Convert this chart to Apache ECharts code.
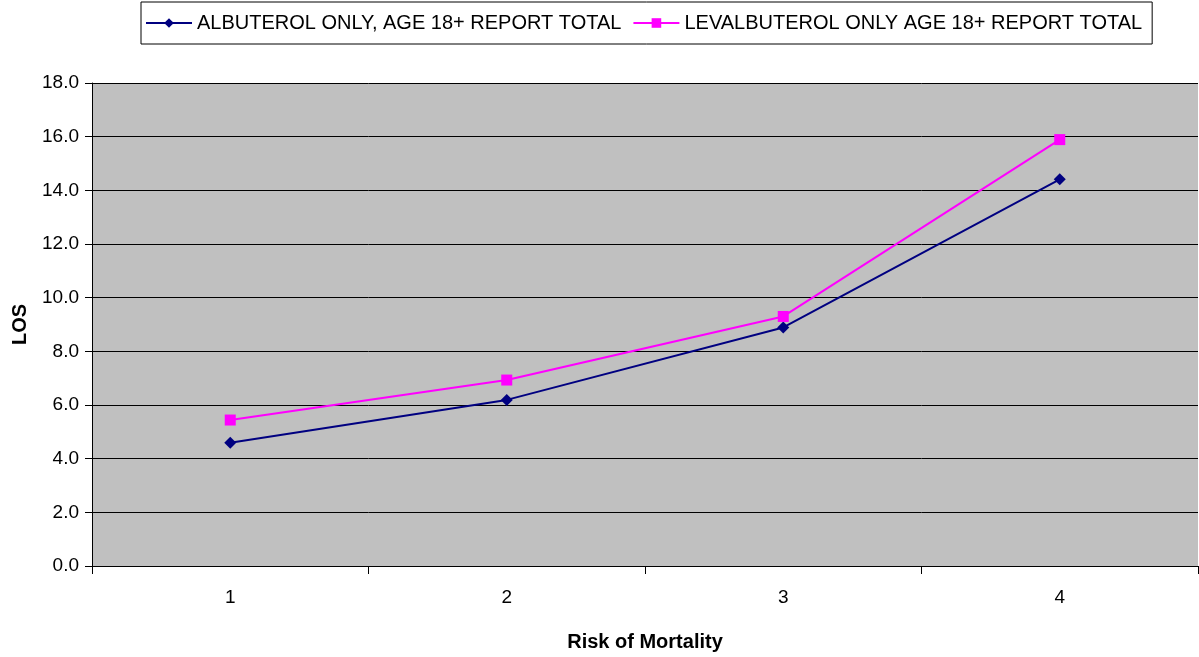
<!DOCTYPE html>
<html><head><meta charset="utf-8">
<script src="https://cdn.jsdelivr.net/npm/echarts@6/dist/echarts.min.js"></script>
<style>html,body{margin:0;padding:0;background:#fff}#c{width:1199px;height:657px}</style>
</head><body><div id="c"></div>
<script>
const categories = ['1','2','3','4'];
const albuterol = [4.59, 6.19, 8.89, 14.41];
const levalbuterol = [5.44, 6.93, 9.30, 15.89];
const seriesNames = ['ALBUTEROL ONLY, AGE 18+ REPORT TOTAL', 'LEVALBUTEROL ONLY AGE 18+ REPORT TOTAL'];

const chart = echarts.init(document.getElementById('c'), null, {renderer:'canvas'});
const font = 'Liberation Sans, Arial, sans-serif';
chart.setOption({
  animation:false,
  backgroundColor:'#fff',
  legend:{
    top:2, left:141,
    padding:[11,10,11,4],
    borderColor:'#000', borderWidth:1,
    itemGap:11, itemWidth:46, itemHeight:12,
    textStyle:{fontFamily:font, fontSize:20, color:'#000'},
    data:[seriesNames[0], seriesNames[1]]
  },
  grid:{left:92, right:1, top:83, bottom:89, show:true, backgroundColor:'#c0c0c0', borderWidth:0},
  xAxis:{
    type:'category', data:categories, boundaryGap:true,
    name:'Risk of Mortality', nameLocation:'middle', nameGap:66,
    nameTextStyle:{fontFamily:font, fontSize:20, fontWeight:'bold', color:'#000'},
    axisLine:{lineStyle:{color:'#000', width:1}},
    axisTick:{show:true, length:8, lineStyle:{color:'#000'}},
    axisLabel:{fontFamily:font, fontSize:19, color:'#000', margin:22}
  },
  yAxis:{
    type:'value', min:0, max:18, interval:2,
    name:'LOS', nameLocation:'middle', nameGap:62,
    nameTextStyle:{fontFamily:font, fontSize:20, fontWeight:'bold', color:'#000'},
    axisLine:{show:true, lineStyle:{color:'#000', width:1}},
    axisTick:{show:true, length:7, lineStyle:{color:'#000'}},
    axisLabel:{fontFamily:font, fontSize:19, color:'#000', margin:13, formatter:v=>v.toFixed(1)},
    splitLine:{show:true, lineStyle:{color:'#000', width:1}}
  },
  series:[
    {name:seriesNames[0], type:'line', data:albuterol, symbol:'diamond', symbolSize:12,
      lineStyle:{color:'#000080', width:2}, itemStyle:{color:'#000080'}},
    {name:seriesNames[1], type:'line', data:levalbuterol, symbol:'rect', symbolSize:11,
      lineStyle:{color:'#ff00ff', width:2}, itemStyle:{color:'#ff00ff'}}
  ]
});
</script></body></html>
